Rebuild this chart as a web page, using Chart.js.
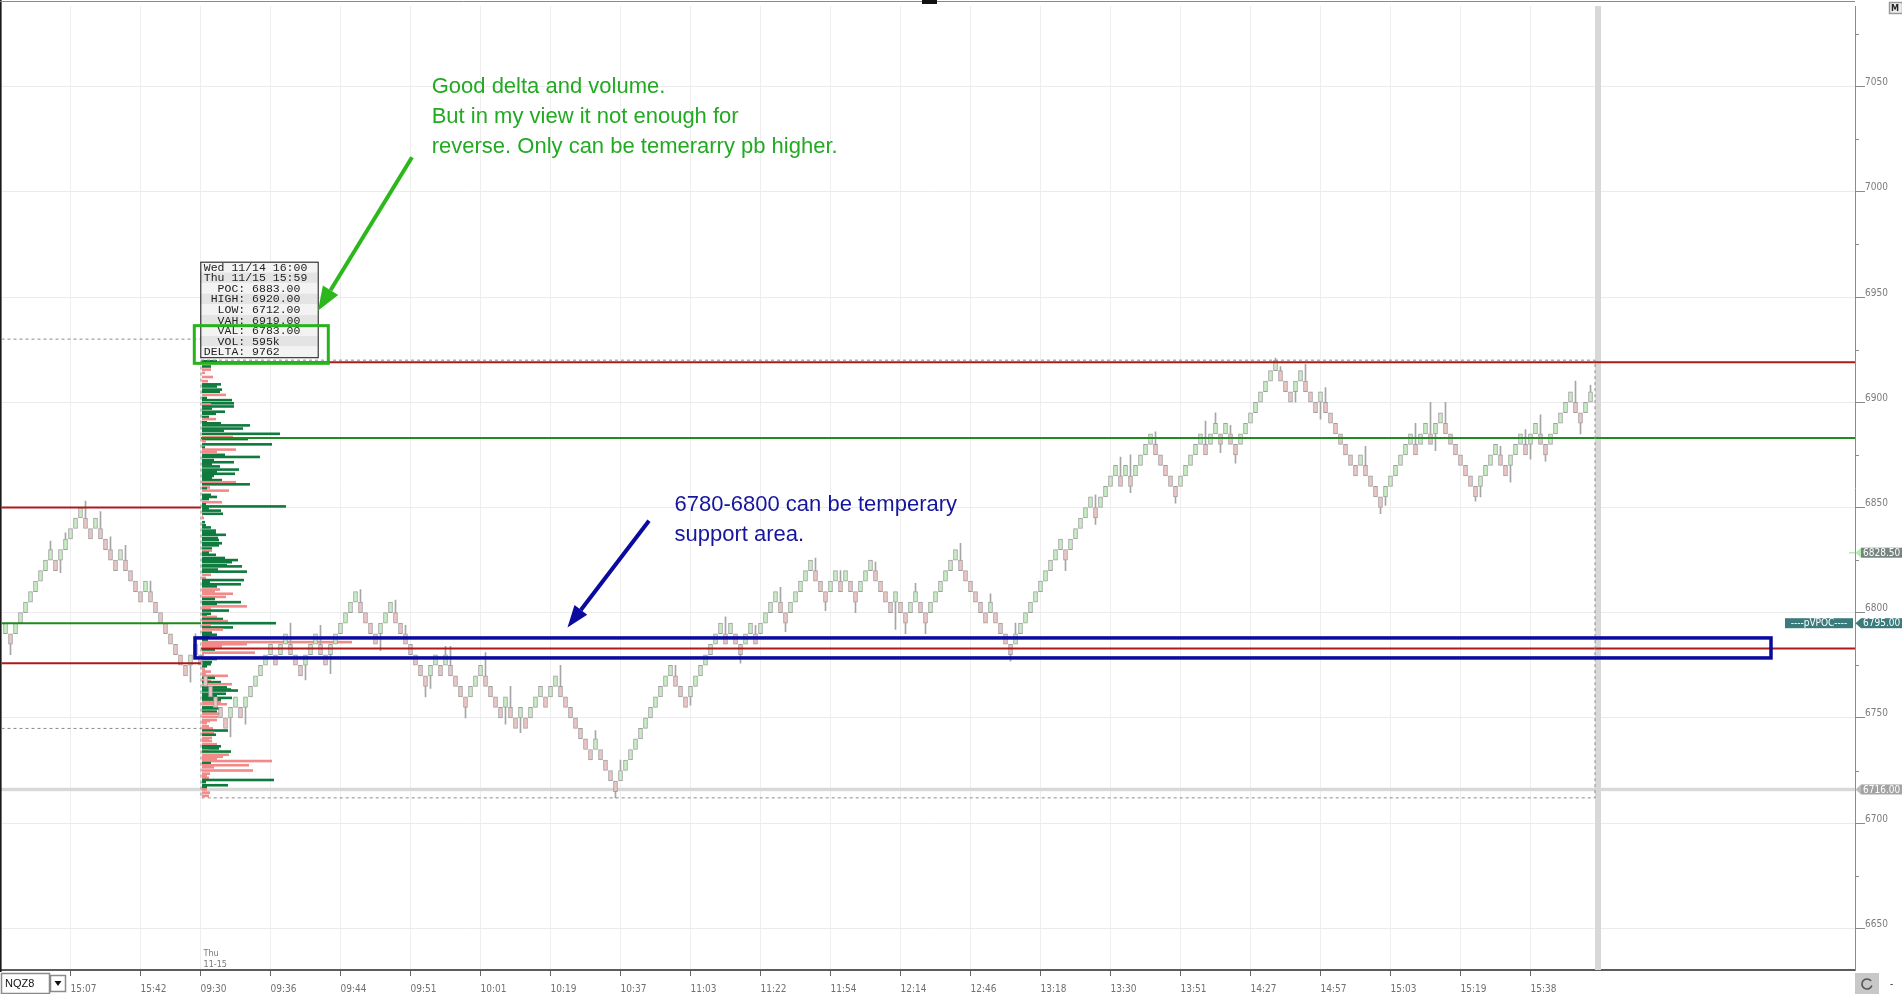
<!DOCTYPE html>
<html>
<head>
<meta charset="utf-8">
<title>NQZ8 renko</title>
<script src="https://cdn.jsdelivr.net/npm/chart.js@4.4.1/dist/chart.umd.min.js"></script>
<style>
    html, body { margin: 0; padding: 0; background: #fff; overflow: hidden; }
    #wrap { position: relative; width: 1902px; height: 994px; }
</style>
</head>
<body>
<div id="wrap"><canvas id="chart"></canvas></div>
<script>
// ---- data ----
// renko closes, one per bar (5 point bricks)
const barCloses = [
    6795, 6785, 6795, 6800, 6805, 6810, 6815, 6820, 6825, 6830,
    6820, 6830, 6835, 6840, 6845, 6850, 6840, 6835, 6845, 6835,
    6830, 6825, 6820, 6830, 6820, 6815, 6810, 6805, 6815, 6805,
    6800, 6795, 6790, 6785, 6780, 6775, 6770, 6780, 6785, 6775,
    6765, 6760, 6755, 6750, 6745, 6755, 6760, 6750, 6760, 6765,
    6770, 6775, 6780, 6785, 6775, 6785, 6790, 6780, 6775, 6770,
    6780, 6785, 6790, 6780, 6775, 6785, 6790, 6795, 6800, 6805,
    6810, 6800, 6795, 6790, 6785, 6795, 6800, 6805, 6795, 6790,
    6785, 6780, 6775, 6770, 6765, 6775, 6780, 6770, 6780, 6770,
    6765, 6760, 6755, 6765, 6770, 6775, 6765, 6760, 6755, 6750,
    6760, 6750, 6745, 6755, 6745, 6755, 6760, 6765, 6755, 6765,
    6770, 6760, 6755, 6750, 6745, 6740, 6735, 6730, 6740, 6730,
    6725, 6720, 6715, 6725, 6730, 6735, 6740, 6745, 6750, 6755,
    6760, 6765, 6770, 6775, 6765, 6760, 6755, 6765, 6770, 6775,
    6780, 6785, 6790, 6795, 6785, 6795, 6785, 6780, 6790, 6795,
    6785, 6795, 6800, 6805, 6810, 6800, 6795, 6805, 6810, 6815,
    6820, 6825, 6815, 6810, 6805, 6815, 6820, 6810, 6820, 6810,
    6805, 6815, 6820, 6825, 6815, 6810, 6805, 6800, 6810, 6800,
    6795, 6805, 6810, 6800, 6795, 6805, 6810, 6815, 6820, 6825,
    6830, 6820, 6815, 6810, 6805, 6800, 6795, 6805, 6795, 6790,
    6785, 6780, 6790, 6795, 6800, 6805, 6810, 6815, 6820, 6825,
    6830, 6835, 6825, 6835, 6840, 6845, 6850, 6855, 6845, 6855,
    6860, 6865, 6870, 6860, 6870, 6860, 6870, 6875, 6880, 6885,
    6875, 6870, 6865, 6860, 6855, 6865, 6870, 6875, 6880, 6885,
    6875, 6885, 6890, 6880, 6890, 6880, 6875, 6885, 6890, 6895,
    6900, 6905, 6910, 6915, 6920, 6910, 6905, 6900, 6910, 6915,
    6905, 6900, 6895, 6905, 6895, 6890, 6885, 6880, 6875, 6870,
    6865, 6875, 6865, 6860, 6855, 6850, 6860, 6865, 6870, 6875,
    6880, 6885, 6875, 6885, 6890, 6880, 6890, 6895, 6885, 6880,
    6875, 6870, 6865, 6860, 6855, 6865, 6870, 6875, 6880, 6870,
    6865, 6875, 6880, 6885, 6875, 6885, 6890, 6880, 6875, 6885,
    6890, 6895, 6900, 6905, 6895, 6890, 6900, 6905
];
const BRICK = 5;

// visible wicks: [bar, price]
const wickHighs = [
    [9, 6834], [12, 6838], [16, 6853], [19, 6848], [21, 6836], [24, 6832], [29, 6815], [38, 6790],
    [57, 6795], [63, 6794], [71, 6811], [78, 6806], [80, 6794], [88, 6784], [89, 6784], [96, 6781],
    [101, 6765], [111, 6775], [118, 6744], [123, 6730], [134, 6775], [144, 6798], [150, 6794], [155, 6812],
    [162, 6826], [167, 6820], [174, 6824], [182, 6814], [191, 6833], [197, 6809], [202, 6795], [218, 6856],
    [223, 6874], [225, 6875], [230, 6886], [240, 6891], [242, 6895], [245, 6889], [254, 6921], [255, 6917],
    [260, 6918], [264, 6907], [272, 6879], [282, 6890], [285, 6900], [288, 6900], [299, 6879], [304, 6887],
    [307, 6894], [314, 6910], [317, 6908]
];
const wickLows = [
    [1, 6780], [11, 6819], [37, 6767], [45, 6741], [48, 6747], [60, 6768], [65, 6771], [75, 6782],
    [84, 6760], [85, 6764], [92, 6750], [100, 6747], [103, 6743], [122, 6712], [137, 6756], [147, 6776],
    [156, 6791], [164, 6801], [170, 6800], [178, 6792], [180, 6790], [184, 6790], [201, 6777], [212, 6820],
    [218, 6842], [225, 6857], [234, 6852], [243, 6876], [246, 6871], [258, 6900], [263, 6892], [275, 6847],
    [276, 6851], [286, 6877], [294, 6853], [295, 6855], [301, 6862], [305, 6873], [308, 6872], [315, 6885]
];

const tickBars = [13, 27, 39, 53, 67, 81, 95, 109, 123, 137, 151, 165, 179, 193, 207, 221, 235, 249, 263, 277, 291, 305];
const tickLabels = ['15:07', '15:42', '09:30', '09:36', '09:44', '09:51', '10:01', '10:19', '10:37', '11:03', '11:22',
    '11:54', '12:14', '12:46', '13:18', '13:30', '13:51', '14:27', '14:57', '15:03', '15:19', '15:38'];
const priceTicks = [6650, 6675, 6700, 6725, 6750, 6775, 6800, 6825, 6850, 6875, 6900, 6925, 6950, 6975, 7000, 7025, 7050, 7075];

// session (Thu 11/15) and prior session levels
const sessionStartBar = 39.1;
const sessionEndBar = 317.9;
const sessionLevels = [6919, 6883, 6783];      // VAH, POC, VAL
const sessionRange = [6920, 6712];             // high, low
const priorLevels = [6850, 6795, 6776];        // prior VAH, VPOC, VAL
const priorRange = [6930, 6745];
const lastMarkPrice = 6716;

// volume profile rows: price, volume (hundreds), dominant side
const profileRows = [
    [6919.5, 15, 'g'], [6917, 9, 'g'], [6915.5, 9, 'r'], [6914, 3, 'r'], [6912, 11, 'r'], [6910, 6, 'r'],
    [6908.5, 19, 'g'], [6907.5, 15, 'g'], [6906, 20, 'g'], [6905, 18, 'g'], [6903.5, 24, 'r'], [6902, 5, 'g'],
    [6901, 30, 'g'], [6899.5, 32, 'g'], [6899, 9, 'r'], [6898, 32, 'g'], [6897, 10, 'g'], [6895.5, 23, 'g'],
    [6894.5, 14, 'g'], [6893, 7, 'g'], [6892, 14, 'r'], [6890.5, 5, 'g'], [6890, 19, 'g'], [6889, 48, 'g'],
    [6887.5, 41, 'g'], [6886.5, 22, 'g'], [6885, 78, 'g'], [6883.5, 31, 'r'], [6882.5, 46, 'g'], [6881.5, 4, 'r'],
    [6880, 70, 'g'], [6878.5, 3, 'g'], [6877.5, 34, 'r'], [6876.5, 15, 'r'], [6875, 23, 'g'], [6874, 58, 'g'],
    [6872.5, 12, 'g'], [6871.5, 32, 'g'], [6870.5, 10, 'g'], [6869.5, 18, 'g'], [6868, 37, 'g'], [6867, 15, 'g'],
    [6866, 33, 'g'], [6865, 12, 'g'], [6864, 10, 'g'], [6863, 20, 'g'], [6862, 34, 'r'], [6861, 48, 'g'],
    [6859.5, 8, 'r'], [6859, 5, 'g'], [6858, 27, 'r'], [6856, 9, 'g'], [6855, 15, 'g'], [6854, 7, 'g'],
    [6852.5, 20, 'r'], [6851.5, 4, 'g'], [6850.5, 84, 'g'], [6849.5, 7, 'g'], [6848.5, 19, 'g'], [6847, 21, 'g'],
    [6846, 1, 'r'], [6845, 2, 'r'], [6843, 3, 'g'], [6841.5, 4, 'g'], [6840.5, 9, 'g'], [6839, 14, 'g'],
    [6838, 14, 'g'], [6837, 24, 'g'], [6835.5, 16, 'g'], [6834.5, 17, 'g'], [6833, 20, 'g'], [6832, 17, 'g'],
    [6830.5, 10, 'g'], [6829.5, 10, 'r'], [6828.5, 7, 'g'], [6827.5, 14, 'g'], [6826, 23, 'g'], [6825, 36, 'g'],
    [6824, 30, 'g'], [6822.5, 25, 'g'], [6822, 40, 'g'], [6820.5, 16, 'g'], [6819.5, 45, 'g'], [6818, 9, 'r'],
    [6816.5, 4, 'r'], [6815.5, 42, 'g'], [6814.5, 8, 'g'], [6813.5, 39, 'g'], [6812.5, 15, 'g'], [6811, 18, 'r'],
    [6810, 13, 'r'], [6809, 31, 'r'], [6807.5, 24, 'r'], [6806.5, 13, 'g'], [6805, 39, 'g'], [6804, 15, 'g'],
    [6803, 45, 'r'], [6802, 9, 'r'], [6801, 27, 'g'], [6799.5, 9, 'g'], [6798.5, 5, 'g'], [6798, 15, 'r'],
    [6797, 21, 'g'], [6796, 26, 'r'], [6795, 74, 'g'], [6794, 9, 'r'], [6793, 31, 'g'], [6792, 21, 'r'],
    [6790.5, 10, 'g'], [6789.5, 15, 'g'], [6788.5, 8, 'g'], [6787, 6, 'g'], [6786, 150, 'r'], [6785, 45, 'r'],
    [6784, 20, 'r'], [6782.5, 13, 'g'], [6781, 53, 'r'], [6780, 2, 'r'], [6778, 15, 'g'], [6776.5, 10, 'g'],
    [6775.5, 9, 'g'], [6774.5, 5, 'g'], [6773, 3, 'r'], [6772, 9, 'r'], [6771, 4, 'r'], [6770, 26, 'r'],
    [6769, 13, 'g'], [6767.5, 9, 'r'], [6767, 19, 'g'], [6766, 30, 'r'], [6764.5, 25, 'g'], [6763.5, 29, 'g'],
    [6763, 36, 'g'], [6761.5, 24, 'g'], [6760.5, 15, 'g'], [6759.5, 30, 'g'], [6758.5, 19, 'g'], [6757.5, 19, 'r'],
    [6756.5, 25, 'r'], [6755, 11, 'g'], [6754.5, 19, 'g'], [6753, 15, 'g'], [6752, 19, 'r'], [6750.5, 16, 'r'],
    [6749, 15, 'r'], [6748.5, 8, 'r'], [6747.5, 5, 'r'], [6746, 7, 'r'], [6745, 11, 'r'], [6744, 26, 'g'],
    [6743, 12, 'r'], [6742, 14, 'g'], [6740.5, 10, 'r'], [6740, 7, 'r'], [6739, 10, 'r'], [6737.5, 15, 'r'],
    [6736.5, 19, 'g'], [6735.5, 17, 'g'], [6734.5, 7, 'r'], [6734, 29, 'g'], [6732.5, 27, 'r'], [6731.5, 21, 'r'],
    [6730.5, 15, 'r'], [6729.5, 70, 'r'], [6728.5, 9, 'g'], [6727.5, 47, 'r'], [6726.5, 12, 'r'], [6725, 51, 'r'],
    [6723.5, 8, 'r'], [6722.5, 5, 'r'], [6721.5, 7, 'r'], [6720.5, 72, 'g'], [6719.5, 4, 'g'], [6718, 26, 'g'],
    [6717, 5, 'g'], [6716, 5, 'r'], [6714.5, 8, 'r'], [6713, 7, 'r']
];
// profile volume units drawn per bar slot
const PROFILE_UNITS_PER_BAR = 5;

const infoLines = ['Wed 11/14 16:00', 'Thu 11/15 15:59', '  POC: 6883.00', ' HIGH: 6920.00', '  LOW: 6712.00',
    '  VAH: 6919.00', '  VAL: 6783.00', '  VOL: 595k', 'DELTA: 9762'];
const noteGreen = ['Good delta and volume.', 'But in my view it not enough for', 'reverse. Only can be temerarry pb higher.'];
const noteBlue = ['6780-6800 can be temperary', 'support area.'];
const axisTags = [[6828.5, '6828.50'], [6795, '6795.00'], [6716, '6716.00']];

// ---- candle bodies and wicks ----
const isUp = barCloses.map((c, i) => i === 0 || c > barCloses[i - 1]);
const bodies = barCloses.map((c, i) => ({ x: i, y: isUp[i] ? [c - BRICK, c] : [c, c + BRICK] }));
const wicks = [
    ...wickHighs.map(([i, p]) => ({ x: i, y: [bodies[i].y[1], p] })),
    ...wickLows.map(([i, p]) => ({ x: i, y: [p, bodies[i].y[0]] }))
];

const UI_FONT = '"Liberation Sans Narrow", "DejaVu Sans Condensed", "Liberation Sans", sans-serif';

function arrow(ctx, x1, y1, x2, y2, color, width, headLen, headHalf) {
    const a = Math.atan2(y2 - y1, x2 - x1);
    const bx = x2 - headLen * Math.cos(a);
    const by = y2 - headLen * Math.sin(a);
    ctx.strokeStyle = color;
    ctx.lineWidth = width;
    ctx.beginPath();
    ctx.moveTo(x1, y1);
    ctx.lineTo(bx, by);
    ctx.stroke();
    ctx.fillStyle = color;
    ctx.beginPath();
    ctx.moveTo(x2, y2);
    ctx.lineTo(bx + headHalf * Math.sin(a), by - headHalf * Math.cos(a));
    ctx.lineTo(bx - headHalf * Math.sin(a), by + headHalf * Math.cos(a));
    ctx.closePath();
    ctx.fill();
}

function hline(ctx, x0, x1, yy, color, width, dash) {
    ctx.strokeStyle = color;
    ctx.lineWidth = width;
    ctx.setLineDash(dash || []);
    ctx.beginPath();
    ctx.moveTo(x0, yy);
    ctx.lineTo(x1, yy);
    ctx.stroke();
    ctx.setLineDash([]);
}

const overlay = {
    id: 'overlay',
    beforeDatasetsDraw(chart) {
        const { ctx, chartArea: a, scales: { x, y } } = chart;
        ctx.save();
        ctx.fillStyle = '#d8d8d8';
        // last mark line
        const ym = y.getPixelForValue(lastMarkPrice);
        ctx.fillRect(0, ym - 1.7, a.right, 3.4);
        // right margin band
        const b0 = x.getPixelForValue(sessionEndBar);
        const b1 = x.getPixelForValue(sessionEndBar + 1.2);
        ctx.fillRect(b0, a.top, b1 - b0, a.bottom - a.top);
        // volume profile
        const base = x.getPixelForValue(sessionStartBar) + 1;
        profileRows.forEach(([p, v, side]) => {
            const y0 = y.getPixelForValue(p + 0.62);
            const y1 = y.getPixelForValue(p - 0.62);
            const w = x.getPixelForValue(sessionStartBar + v / PROFILE_UNITS_PER_BAR) - x.getPixelForValue(sessionStartBar);
            ctx.fillStyle = side === 'g' ? '#0f7a3d' : '#f28a8a';
            ctx.fillRect(base, y0, w, y1 - y0);
        });
        ctx.restore();
    },
    afterDraw(chart) {
        const { ctx, chartArea: a, scales: { x, y } } = chart;
        const X = v => x.getPixelForValue(v);
        const Y = p => y.getPixelForValue(p);
        const base = X(sessionStartBar);
        const end = X(sessionEndBar);
        ctx.save();

        // frame
        ctx.fillStyle = '#1a1a1a';
        ctx.fillRect(0, 0, 1.6, a.bottom + 2);
        hline(ctx, 0, a.right, 1.5, '#8a8a8a', 1);
        ctx.fillStyle = '#111';
        ctx.fillRect(922, 0, 15, 4);

        // prior session levels (left side)
        hline(ctx, a.left, base, Y(priorLevels[0]), '#ad1a1a', 2);
        hline(ctx, a.left, base, Y(priorLevels[1]), '#1f8a1f', 2);
        hline(ctx, a.left, base, Y(priorLevels[2]), '#ad1a1a', 2);
        hline(ctx, a.left, base, Y(priorRange[0]), '#8c8c8c', 1, [3, 3]);
        hline(ctx, a.left, base, Y(priorRange[1]), '#8c8c8c', 1, [3, 3]);

        // current session levels
        hline(ctx, base, a.right, Y(sessionLevels[0]), '#ad1a1a', 2);
        hline(ctx, base, a.right, Y(sessionLevels[1]), '#1f8a1f', 2);
        hline(ctx, base, a.right, Y(sessionLevels[2]), '#ad1a1a', 2);

        // profile range (dashed)
        ctx.strokeStyle = '#8c8c8c';
        ctx.lineWidth = 1;
        ctx.setLineDash([3, 3]);
        ctx.strokeRect(base, Y(sessionRange[0]), end - base, Y(sessionRange[1]) - Y(sessionRange[0]));
        ctx.setLineDash([]);

        // info box
        const bl = X(38.96), br = X(62.44), bt = Y(6966.8), bb = Y(6921.4);
        const rowH = (bb - bt) / infoLines.length;
        infoLines.forEach((t, i) => {
            ctx.fillStyle = i % 2 === 0 ? '#f3f3f3' : '#e4e4e4';
            ctx.fillRect(bl, bt + i * rowH, br - bl, rowH);
        });
        ctx.strokeStyle = '#111';
        ctx.lineWidth = 1;
        ctx.strokeRect(bl + 0.5, bt + 0.5, br - bl, bb - bt);
        ctx.fillStyle = '#222';
        ctx.font = '11.5px "Liberation Mono", "DejaVu Sans Mono", monospace';
        ctx.textBaseline = 'middle';
        ctx.textAlign = 'left';
        infoLines.forEach((t, i) => ctx.fillText(t, bl + 3.5, bt + (i + 0.55) * rowH));

        // green highlight box + arrow + note
        ctx.strokeStyle = '#27b31b';
        ctx.lineWidth = 3;
        const gl = X(37.76), gr = X(64.56), gt = Y(6936.4), gb = Y(6918.5);
        ctx.strokeRect(gl, gt, gr - gl, gb - gt);
        arrow(ctx, X(81.3), Y(7016.4), X(62.5), Y(6943.5), '#2cb81c', 4, 24, 9);
        ctx.fillStyle = '#22aa22';
        ctx.font = '22px "Liberation Sans", Arial, sans-serif';
        ctx.textBaseline = 'alphabetic';
        [7047.0, 7032.8, 7018.6].forEach((p, i) => ctx.fillText(noteGreen[i], X(85.24), Y(p)));

        // blue support box + arrow + note
        ctx.strokeStyle = '#0a0a9e';
        ctx.lineWidth = 3.5;
        const ql = X(37.9), qr = X(353.1), qt = Y(6788), qb = Y(6778.5);
        ctx.strokeRect(ql, qt, qr - ql, qb - qt);
        arrow(ctx, X(128.7), Y(6843.7), X(112.4), Y(6793.0), '#0a0a9e', 4, 22, 8);
        ctx.fillStyle = '#15159e';
        [6848.5, 6834.3].forEach((p, i) => ctx.fillText(noteBlue[i], X(133.8), Y(p)));

        // right axis minor ticks
        ctx.strokeStyle = '#8a8a8a';
        ctx.lineWidth = 1;
        priceTicks.filter(v => v % 50 !== 0).forEach(v => {
            ctx.beginPath();
            ctx.moveTo(a.right, Math.round(Y(v)) + 0.5);
            ctx.lineTo(a.right + 4, Math.round(Y(v)) + 0.5);
            ctx.stroke();
        });

        // right axis price tags
        const tagStyles = [['#76857f', '#b4eab4'], ['#3b7b7b', '#3b7b7b'], ['#a3a3a3', '#bcbcbc']];
        ctx.font = '10px ' + UI_FONT;
        ctx.textBaseline = 'middle';
        axisTags.forEach(([p, label], i) => {
            const yy = Y(p);
            const [bg, tri] = tagStyles[i];
            if (i === 0) hline(ctx, a.right - 6, a.right, yy, tri, 1.5);
            ctx.fillStyle = tri;
            ctx.beginPath();
            ctx.moveTo(a.right + 0.5, yy);
            ctx.lineTo(a.right + 6, yy - 5);
            ctx.lineTo(a.right + 6, yy + 5);
            ctx.closePath();
            ctx.fill();
            ctx.fillStyle = bg;
            ctx.fillRect(a.right + 6, yy - 5, 60, 10);
            ctx.fillStyle = '#fff';
            ctx.fillText(label, a.right + 8, yy + 0.5);
            if (i === 1) {
                ctx.fillStyle = bg;
                ctx.fillRect(a.right - 70, yy - 5, 68, 10);
                ctx.fillStyle = '#fff';
                ctx.textAlign = 'center';
                ctx.fillText('----pVPOC----', a.right - 36, yy + 0.5);
                ctx.textAlign = 'left';
            }
        });

        // session date marker
        ctx.fillStyle = '#7a7a7a';
        ctx.font = '9px ' + UI_FONT;
        ctx.fillText('Thu', X(39) + 3, a.bottom - 16);
        ctx.fillText('11-15', X(39) + 3, a.bottom - 5);

        // "M" button
        ctx.fillStyle = '#ececec';
        ctx.fillRect(1889, 2, 13, 12);
        ctx.strokeStyle = '#9a9a9a';
        ctx.strokeRect(1889.5, 2.5, 13, 11);
        ctx.fillStyle = '#222';
        ctx.font = 'bold 9px ' + UI_FONT;
        ctx.fillText('M', 1891, 8.5);

        // instrument selector
        const sy = a.bottom + 3;
        ctx.fillStyle = '#fff';
        ctx.fillRect(1, sy, 66, 994 - sy);
        ctx.strokeStyle = '#8a8a8a';
        ctx.strokeRect(1.5, sy + 0.5, 48, 994 - sy - 1);
        ctx.strokeRect(50.5, sy + 2.5, 15, 16);
        ctx.fillStyle = '#111';
        ctx.font = '11px "Liberation Sans", sans-serif';
        ctx.fillText('NQZ8', 5, sy + 11);
        ctx.beginPath();
        ctx.moveTo(54.5, sy + 8);
        ctx.lineTo(61.5, sy + 8);
        ctx.lineTo(58, sy + 13);
        ctx.closePath();
        ctx.fill();

        // refresh button
        ctx.fillStyle = '#c8c8c8';
        ctx.fillRect(a.right, sy, 24, 994 - sy);
        ctx.strokeStyle = '#555';
        ctx.lineWidth = 1.6;
        ctx.beginPath();
        ctx.arc(a.right + 12, sy + 11, 5, 0.3, Math.PI * 1.8);
        ctx.stroke();
        ctx.fillStyle = '#333';
        ctx.font = '10px ' + UI_FONT;
        ctx.fillText('-', a.right + 35, sy + 11);

        ctx.restore();
    }
};

new Chart(document.getElementById('chart'), {
    type: 'bar',
    data: {
        datasets: [{
            data: bodies,
            backgroundColor: isUp.map(u => (u ? '#c6eec2' : '#efc4c4')),
            borderColor: '#9f9f9f',
            borderWidth: 1,
            borderSkipped: false,
            barThickness: 4,
            grouped: false,
            order: 1
        }, {
            data: wicks,
            backgroundColor: '#a6a6a6',
            borderWidth: 0,
            barThickness: 1,
            grouped: false,
            order: 2
        }]
    },
    options: {
        responsive: true,
        maintainAspectRatio: false,
        animation: false,
        events: [],
        layout: { padding: { left: 1.5, top: 2, right: 0, bottom: 0 } },
        plugins: { legend: { display: false }, tooltip: { enabled: false } },
        scales: {
            x: {
                type: 'linear',
                min: -0.8,
                max: 369.9,
                offset: false,
                afterBuildTicks: s => { s.ticks = tickBars.map(v => ({ value: v })); },
                afterFit: s => { s.height = 24; },
                ticks: {
                    autoSkip: false,
                    maxRotation: 0,
                    align: 'start',
                    padding: 7,
                    color: '#707070',
                    font: { family: UI_FONT, size: 10 },
                    callback: v => tickLabels[tickBars.indexOf(v)] || ''
                },
                grid: { offset: false, color: '#eeeeee', tickColor: '#666', tickLength: 6 },
                border: { color: '#5c5c5c', width: 2 }
            },
            y: {
                type: 'linear',
                position: 'right',
                min: 6630.2,
                max: 7088.3,
                afterBuildTicks: s => { s.ticks = priceTicks.map(v => ({ value: v })); },
                afterFit: s => { s.width = 47; },
                ticks: {
                    padding: 0,
                    labelOffset: -4,
                    color: '#7c7c7c',
                    font: { family: UI_FONT, size: 10 },
                    callback: v => (v % 50 === 0 ? String(v) : '')
                },
                grid: {
                    color: c => (c.tick && c.tick.value % 50 === 0 ? '#ebebeb' : 'rgba(0,0,0,0)'),
                    tickColor: c => (c.tick && c.tick.value % 50 === 0 ? '#8a8a8a' : 'rgba(0,0,0,0)'),
                    tickLength: 10
                },
                border: { color: '#8c8c8c', width: 1 }
            }
        }
    },
    plugins: [overlay]
});
</script>
</body>
</html>
